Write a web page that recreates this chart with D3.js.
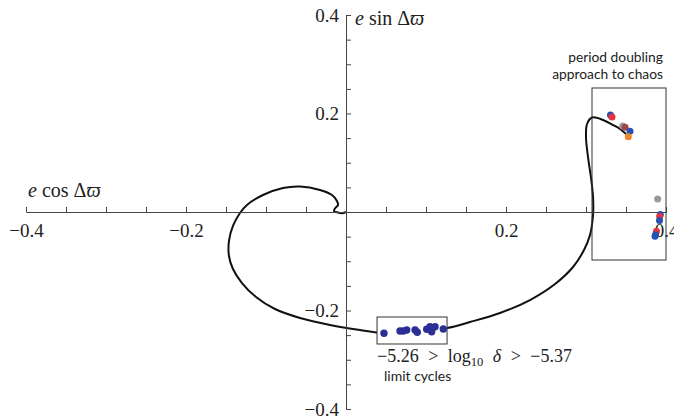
<!DOCTYPE html>
<html><head><meta charset="utf-8">
<script src="https://cdn.jsdelivr.net/npm/d3@7"></script>
<style>
html,body{margin:0;padding:0;background:#fff;}
svg{display:block;}
</style></head>
<body>
<svg id="chart" width="674" height="419"></svg>
<script>
// ---- data ----
const xTickValues = [-0.4,-0.35,-0.3,-0.25,-0.2,-0.15,-0.1,-0.05,0,0.05,0.1,0.15,0.2,0.25,0.3,0.35,0.4];
const yTickValues = [-0.4,-0.35,-0.3,-0.25,-0.2,-0.15,-0.1,-0.05,0,0.05,0.1,0.15,0.2,0.25,0.3,0.35,0.4];
const xLabelValues = [-0.4,-0.2,0.2,0.4];
const yLabelValues = [-0.4,-0.2,0.2,0.4];

// trajectory (e cos, e sin)
const curveX = [0,-0.005,-0.0113,-0.015,-0.0138,-0.010,-0.0113,-0.0175,-0.0325,-0.0575,-0.0788,-0.1038,-0.1238,-0.1325,-0.1413,-0.1463,-0.1463,-0.1413,-0.130,-0.1125,-0.0888,-0.0575,-0.020,0.0175,0.0475,0.09,0.1263,0.155,0.1925,0.230,0.2613,0.2838,0.2975,0.305,0.3088,0.3088,0.3063,0.3025,0.300,0.3013,0.3075,0.3213,0.3338,0.3425,0.350];
const curveY = [0,-0.0026,-0.0006,0.002,0.0071,0.0142,0.0223,0.0345,0.0447,0.0518,0.0487,0.0345,0.0142,-0.002,-0.0284,-0.0589,-0.0893,-0.1157,-0.1442,-0.1726,-0.1970,-0.2152,-0.2294,-0.2396,-0.2457,-0.241,-0.2355,-0.2234,-0.2051,-0.1787,-0.1462,-0.1117,-0.0772,-0.0467,-0.0061,0.0305,0.069,0.1117,0.1523,0.1787,0.1919,0.1868,0.1766,0.1685,0.1584];

// limit cycle points
const limitX = [0.0475,0.0675,0.0716,0.0759,0.0863,0.0891,0.1009,0.1050,0.1071,0.1113,0.1216];
const limitY = [-0.2463,-0.2416,-0.2416,-0.2396,-0.2396,-0.2443,-0.2382,-0.2330,-0.2431,-0.2330,-0.2376];

// period doubling points
const pdX = [0.3306,0.3325,0.3459,0.3488,0.3550,0.3529,0.3896,0.3929,0.3921,0.3919,0.3881,0.3869,0.3863];
const pdY = [0.1970,0.1929,0.1746,0.1720,0.1639,0.1529,0.0264,-0.0050,-0.0092,-0.0172,-0.0390,-0.0460,-0.0490];
const pdColor = ["#2553b0","#e8333c","#9a9a9a","#a0454a","#2553b0","#f0862a","#9a9a9a","#2553b0","#e8333c","#2553b0","#e8333c","#2553b0","#2553b0"];

// boxes (data coordinates)
const limitBox = {x0:0.0388, x1:0.1263, y0:-0.2680, y1:-0.2132};
const pdBox = {x0:0.3075, x1:0.400, y0:-0.0975, y1:0.2518};

// ---- drawing ----
const svg = d3.select("#chart");
const x = d3.scaleLinear().domain([-0.4,0.4]).range([26,666]);
const y = d3.scaleLinear().domain([-0.4,0.4]).range([409,15]);
const serif = "'Liberation Serif','DejaVu Serif',serif";
const sans = "Lato,'Open Sans',sans-serif";
const axisColor = "#444";

// curve
const pts = curveX.map((v,i)=>[v,curveY[i]]);
svg.append("path")
  .attr("d", d3.line().x(d=>x(d[0])).y(d=>y(d[1])).curve(d3.curveCatmullRom.alpha(0.5))(pts))
  .attr("fill","none").attr("stroke","#111").attr("stroke-width",2);

// x axis ticks (upward)
const gx = svg.append("g").attr("transform",`translate(0,${y(0)})`)
  .call(d3.axisTop(x).tickValues(xTickValues).tickSize(5).tickSizeOuter(0).tickFormat(""));
gx.select(".domain").attr("stroke",axisColor);
gx.selectAll(".tick line").attr("stroke",axisColor);

// x labels
const gxl = svg.append("g").attr("transform",`translate(0,${y(0)})`)
  .call(d3.axisBottom(x).tickValues(xLabelValues).tickSize(0).tickPadding(12).tickFormat(d3.format(".1f")));
gxl.select(".domain").remove();
gxl.selectAll("text").attr("font-family",serif).attr("font-size",19).attr("fill","#222");

// y axis ticks (rightward)
const gy = svg.append("g").attr("transform",`translate(${x(0)},0)`)
  .call(d3.axisRight(y).tickValues(yTickValues).tickSize(5).tickSizeOuter(0).tickFormat(""));
gy.select(".domain").attr("stroke",axisColor);
gy.selectAll(".tick line").attr("stroke",axisColor);

const gyl = svg.append("g").attr("transform",`translate(${x(0)},0)`)
  .call(d3.axisLeft(y).tickValues(yLabelValues).tickSize(0).tickPadding(7).tickFormat(d3.format(".1f")));
gyl.select(".domain").remove();
gyl.selectAll("text").attr("font-family",serif).attr("font-size",19).attr("fill","#222");

// axis titles
function mathLabel(g, xp, yp, fn){
  const t = g.append("text").attr("x",xp).attr("y",yp).attr("font-family",serif).attr("font-size",20).attr("fill","#222");
  t.append("tspan").attr("font-style","italic").text("e");
  t.append("tspan").text(" " + fn + " Δ");
  t.append("tspan").attr("font-style","italic").text("ϖ");
}
mathLabel(svg, 28, 197, "cos");
mathLabel(svg, 355, 25, "sin");

// limit cycle box (white fill hides curve)
svg.append("rect")
  .attr("x",x(limitBox.x0)).attr("y",y(limitBox.y1))
  .attr("width",x(limitBox.x1)-x(limitBox.x0)).attr("height",y(limitBox.y0)-y(limitBox.y1))
  .attr("fill","#fff").attr("stroke","#333").attr("stroke-width",1);

svg.append("g").selectAll("circle").data(limitX.map((v,i)=>[v,limitY[i]])).join("circle")
  .attr("cx",d=>x(d[0])).attr("cy",d=>y(d[1])).attr("r",3.7).attr("fill","#2a2e95");

// period doubling box
svg.append("rect")
  .attr("x",x(pdBox.x0)).attr("y",y(pdBox.y1))
  .attr("width",x(pdBox.x1)-x(pdBox.x0)).attr("height",y(pdBox.y0)-y(pdBox.y1))
  .attr("fill","none").attr("stroke","#333").attr("stroke-width",1);

svg.append("g").selectAll("circle").data(pdX.map((v,i)=>[v,pdY[i],pdColor[i]])).join("circle")
  .attr("cx",d=>x(d[0])).attr("cy",d=>y(d[1])).attr("r",3.5).attr("fill",d=>d[2]);

// annotations
svg.append("text").attr("x",663).attr("y",62).attr("text-anchor","end")
  .attr("font-family",sans).attr("font-size",13.8).attr("fill","#222").text("period doubling");
svg.append("text").attr("x",663).attr("y",79).attr("text-anchor","end")
  .attr("font-family",sans).attr("font-size",13.8).attr("fill","#222").text("approach to chaos");

const lt = svg.append("text").attr("x",377).attr("y",362).attr("font-family",serif).attr("font-size",18)
  .attr("word-spacing",5).attr("fill","#222");
lt.append("tspan").text("−5.26 > log");
lt.append("tspan").attr("font-size",12.5).attr("dy",4).text("10");
lt.append("tspan").attr("dy",-4).attr("font-style","italic").text(" δ");
lt.append("tspan").text(" > −5.37");

svg.append("text").attr("x",384).attr("y",381)
  .attr("font-family",sans).attr("font-size",14).attr("fill","#222").text("limit cycles");
</script>
</body></html>
